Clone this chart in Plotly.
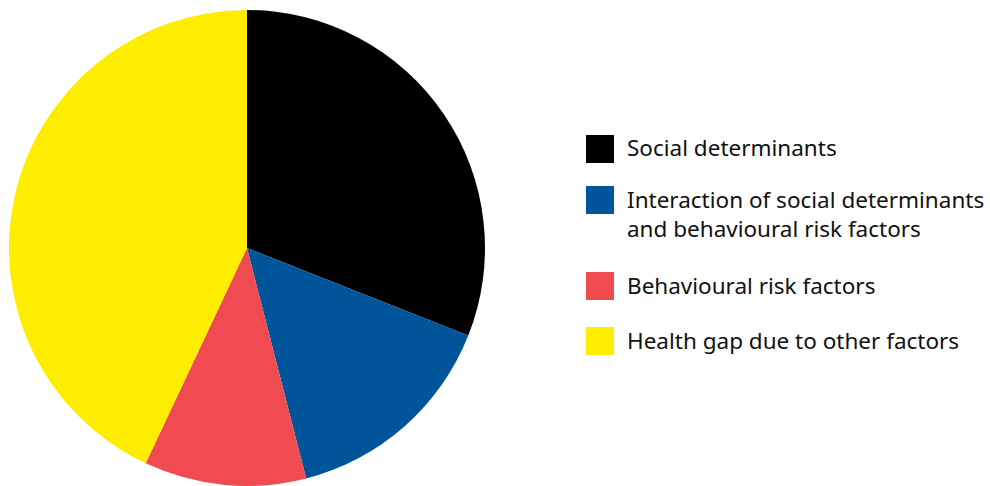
import plotly.graph_objects as go

# Share of the health gap attributed to each group of factors (%)
categories = [
    "Social determinants",
    "Interaction of social determinants<br>and behavioural risk factors",
    "Behavioural risk factors",
    "Health gap due to other factors",
]
shares = [31, 15, 11, 43]
colors = ["#000000", "#005499", "#EF4B51", "#FFED00"]

W, H = 990, 486
M_TOP, M_BOT = 10, 0


def px_x(px):
    return px / W


def px_y(py):
    return (H - M_BOT - py) / (H - M_TOP - M_BOT)


fig = go.Figure(
    go.Pie(
        labels=categories,
        values=shares,
        marker=dict(colors=colors, line=dict(width=0)),
        sort=False,
        direction="clockwise",
        rotation=0,
        textinfo="none",
        hoverinfo="label+percent",
        showlegend=False,
        domain=dict(x=[0, 494 / W], y=[0, 1]),
    )
)

# Hand-built legend: large colour swatches with labels to their right
sw_left, sw_size, text_left = 586, 28, 625
sw_tops = [135, 186, 272, 327]
text_mid = [148, 214, 286, 340]
shapes, annotations = [], []
for lab, col, top, mid in zip(categories, colors, sw_tops, text_mid):
    shapes.append(dict(
        type="rect", xref="paper", yref="paper",
        x0=px_x(sw_left), x1=px_x(sw_left + sw_size),
        y0=px_y(top + sw_size), y1=px_y(top),
        fillcolor=col, line=dict(width=0),
    ))
    annotations.append(dict(
        text=lab, xref="paper", yref="paper",
        x=px_x(text_left), y=px_y(mid),
        xanchor="left", yanchor="middle", align="left",
        showarrow=False,
        font=dict(family="Noto Sans", size=22.5, color="#111111"),
    ))

fig.update_layout(
    width=W, height=H,
    margin=dict(l=0, r=0, t=M_TOP, b=M_BOT, autoexpand=False),
    paper_bgcolor="white", plot_bgcolor="white",
    shapes=shapes, annotations=annotations,
)

fig.write_html("out.html")
